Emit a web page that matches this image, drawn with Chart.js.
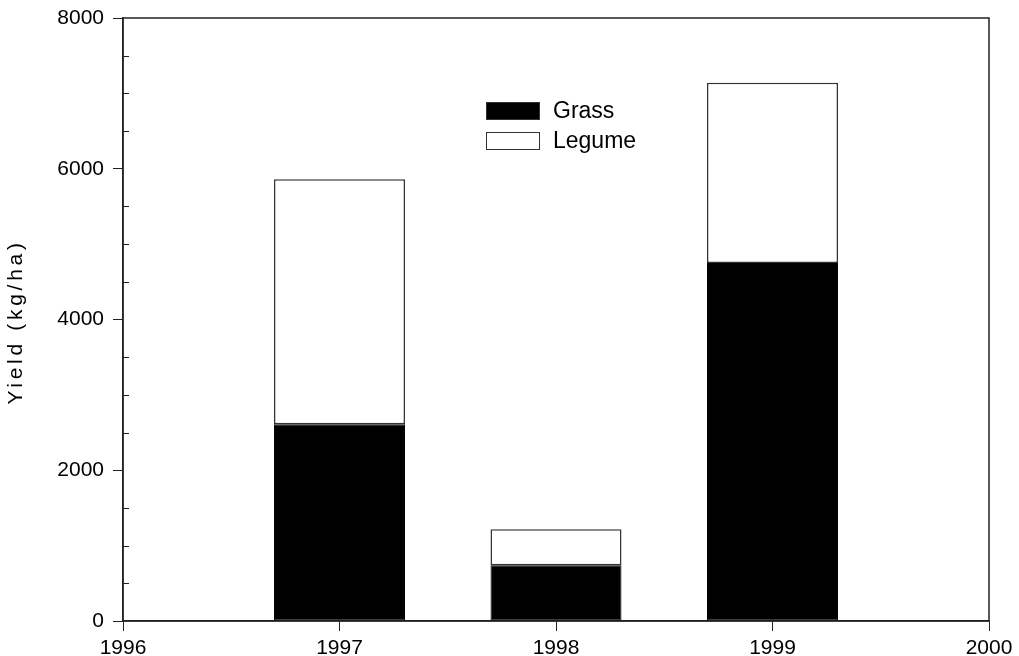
<!DOCTYPE html>
<html>
<head>
<meta charset="utf-8">
<script src="https://cdn.jsdelivr.net/npm/chart.js@4"></script>
<style>
  html, body { margin: 0; padding: 0; background: #fff; }
  #wrap { width: 1019px; height: 656px; }
</style>
</head>
<body>
<div id="wrap"><canvas id="yieldChart" width="1019" height="656"></canvas></div>
<script>
// Dados
const anos = [1997, 1998, 1999];
const grass = [2610, 740, 4750];
const legume = [3250, 477, 2390];
const xTicks = [1996, 1997, 1998, 1999, 2000];
const yTicks = [0, 2000, 4000, 6000, 8000];
const yMinorStep = 500;

const fonte = "'Liberation Sans', Arial, sans-serif";

// Caixa em volta da área do gráfico + ticks menores + legenda + título do eixo Y
const extras = {
    id: 'extras',
    afterDatasetsDraw(chart) {
        const { ctx, chartArea: a, scales: { y } } = chart;
        ctx.save();
        ctx.strokeStyle = '#222';
        ctx.lineWidth = 1.5;
        ctx.strokeRect(a.left, a.top, a.right - a.left, a.bottom - a.top);

        // ticks menores (para dentro)
        ctx.lineWidth = 1;
        for (let v = y.min; v <= y.max; v += yMinorStep) {
            if (v % 2000 === 0) continue;
            const py = Math.round(y.getPixelForValue(v)) + 0.5;
            ctx.beginPath();
            ctx.moveTo(a.left, py);
            ctx.lineTo(a.left + 6, py);
            ctx.stroke();
        }

        // legenda
        const lx = 486, ly = 102, bw = 54, bh = 18, gap = 30;
        chart.data.datasets.forEach((ds, i) => {
            const top = ly + i * gap;
            ctx.fillStyle = ds.backgroundColor;
            ctx.fillRect(lx, top, bw, bh);
            ctx.strokeStyle = '#333';
            ctx.lineWidth = 1;
            ctx.strokeRect(lx + 0.5, top + 0.5, bw - 1, bh - 1);
            ctx.fillStyle = '#000';
            ctx.font = '23px ' + fonte;
            ctx.textBaseline = 'middle';
            ctx.textAlign = 'left';
            ctx.fillText(ds.label, lx + bw + 13, top + bh / 2 + 1);
        });

        // título do eixo Y com espaçamento entre letras
        ctx.translate(16, 322);
        ctx.rotate(-Math.PI / 2);
        ctx.font = '21px ' + fonte;
        ctx.letterSpacing = '3.7px';
        ctx.textAlign = 'center';
        ctx.textBaseline = 'middle';
        ctx.fillStyle = '#000';
        ctx.fillText('Yield (kg/ha)', 0, 0);
        ctx.restore();
    }
};

const ctx = document.getElementById('yieldChart').getContext('2d');

new Chart(ctx, {
    type: 'bar',
    data: {
        datasets: [
            {
                label: 'Grass',
                data: anos.map((a, i) => ({ x: a, y: grass[i] })),
                backgroundColor: '#000',
                borderColor: '#000',
                borderWidth: 1,
                borderSkipped: false,
            },
            {
                label: 'Legume',
                data: anos.map((a, i) => ({ x: a, y: legume[i] })),
                backgroundColor: '#fff',
                borderColor: '#333',
                borderWidth: 1.5,
                borderSkipped: false,
            }
        ]
    },
    plugins: [extras],
    options: {
        responsive: false,
        animation: false,
        datasets: {
            bar: { categoryPercentage: 1, barPercentage: 0.605 }
        },
        layout: { padding: { top: 18, right: 30, left: 0, bottom: 0 } },
        plugins: {
            legend: { display: false },
            tooltip: { enabled: false }
        },
        scales: {
            x: {
                type: 'linear',
                stacked: true,
                offset: false,
                min: 1996,
                max: 2000,
                afterBuildTicks: (scale) => { scale.ticks = xTicks.map(v => ({ value: v })); },
                afterFit: (scale) => {
                    scale.height = 35;
                    scale.paddingLeft = 0;
                    scale.paddingRight = 0;
                },
                ticks: {
                    color: '#000',
                    font: { size: 21, family: fonte },
                    padding: 5,
                    maxRotation: 0,
                    callback: (v) => String(v)
                },
                grid: {
                    offset: false,
                    drawOnChartArea: false,
                    tickLength: 10,
                    color: '#222',
                    lineWidth: 1
                },
                border: { color: '#222', width: 1.5 }
            },
            y: {
                stacked: true,
                min: 0,
                max: 8000,
                afterBuildTicks: (scale) => { scale.ticks = yTicks.map(v => ({ value: v })); },
                afterFit: (scale) => {
                    scale.width = 123;
                    scale.paddingTop = 0;
                    scale.paddingBottom = 0;
                },
                ticks: {
                    color: '#000',
                    font: { size: 21, family: fonte },
                    padding: 9,
                    callback: (v) => String(v)
                },
                grid: {
                    drawOnChartArea: false,
                    tickLength: 10,
                    color: '#222',
                    lineWidth: 1
                },
                border: { color: '#222', width: 1.5 }
            }
        }
    }
});
</script>
</body>
</html>
